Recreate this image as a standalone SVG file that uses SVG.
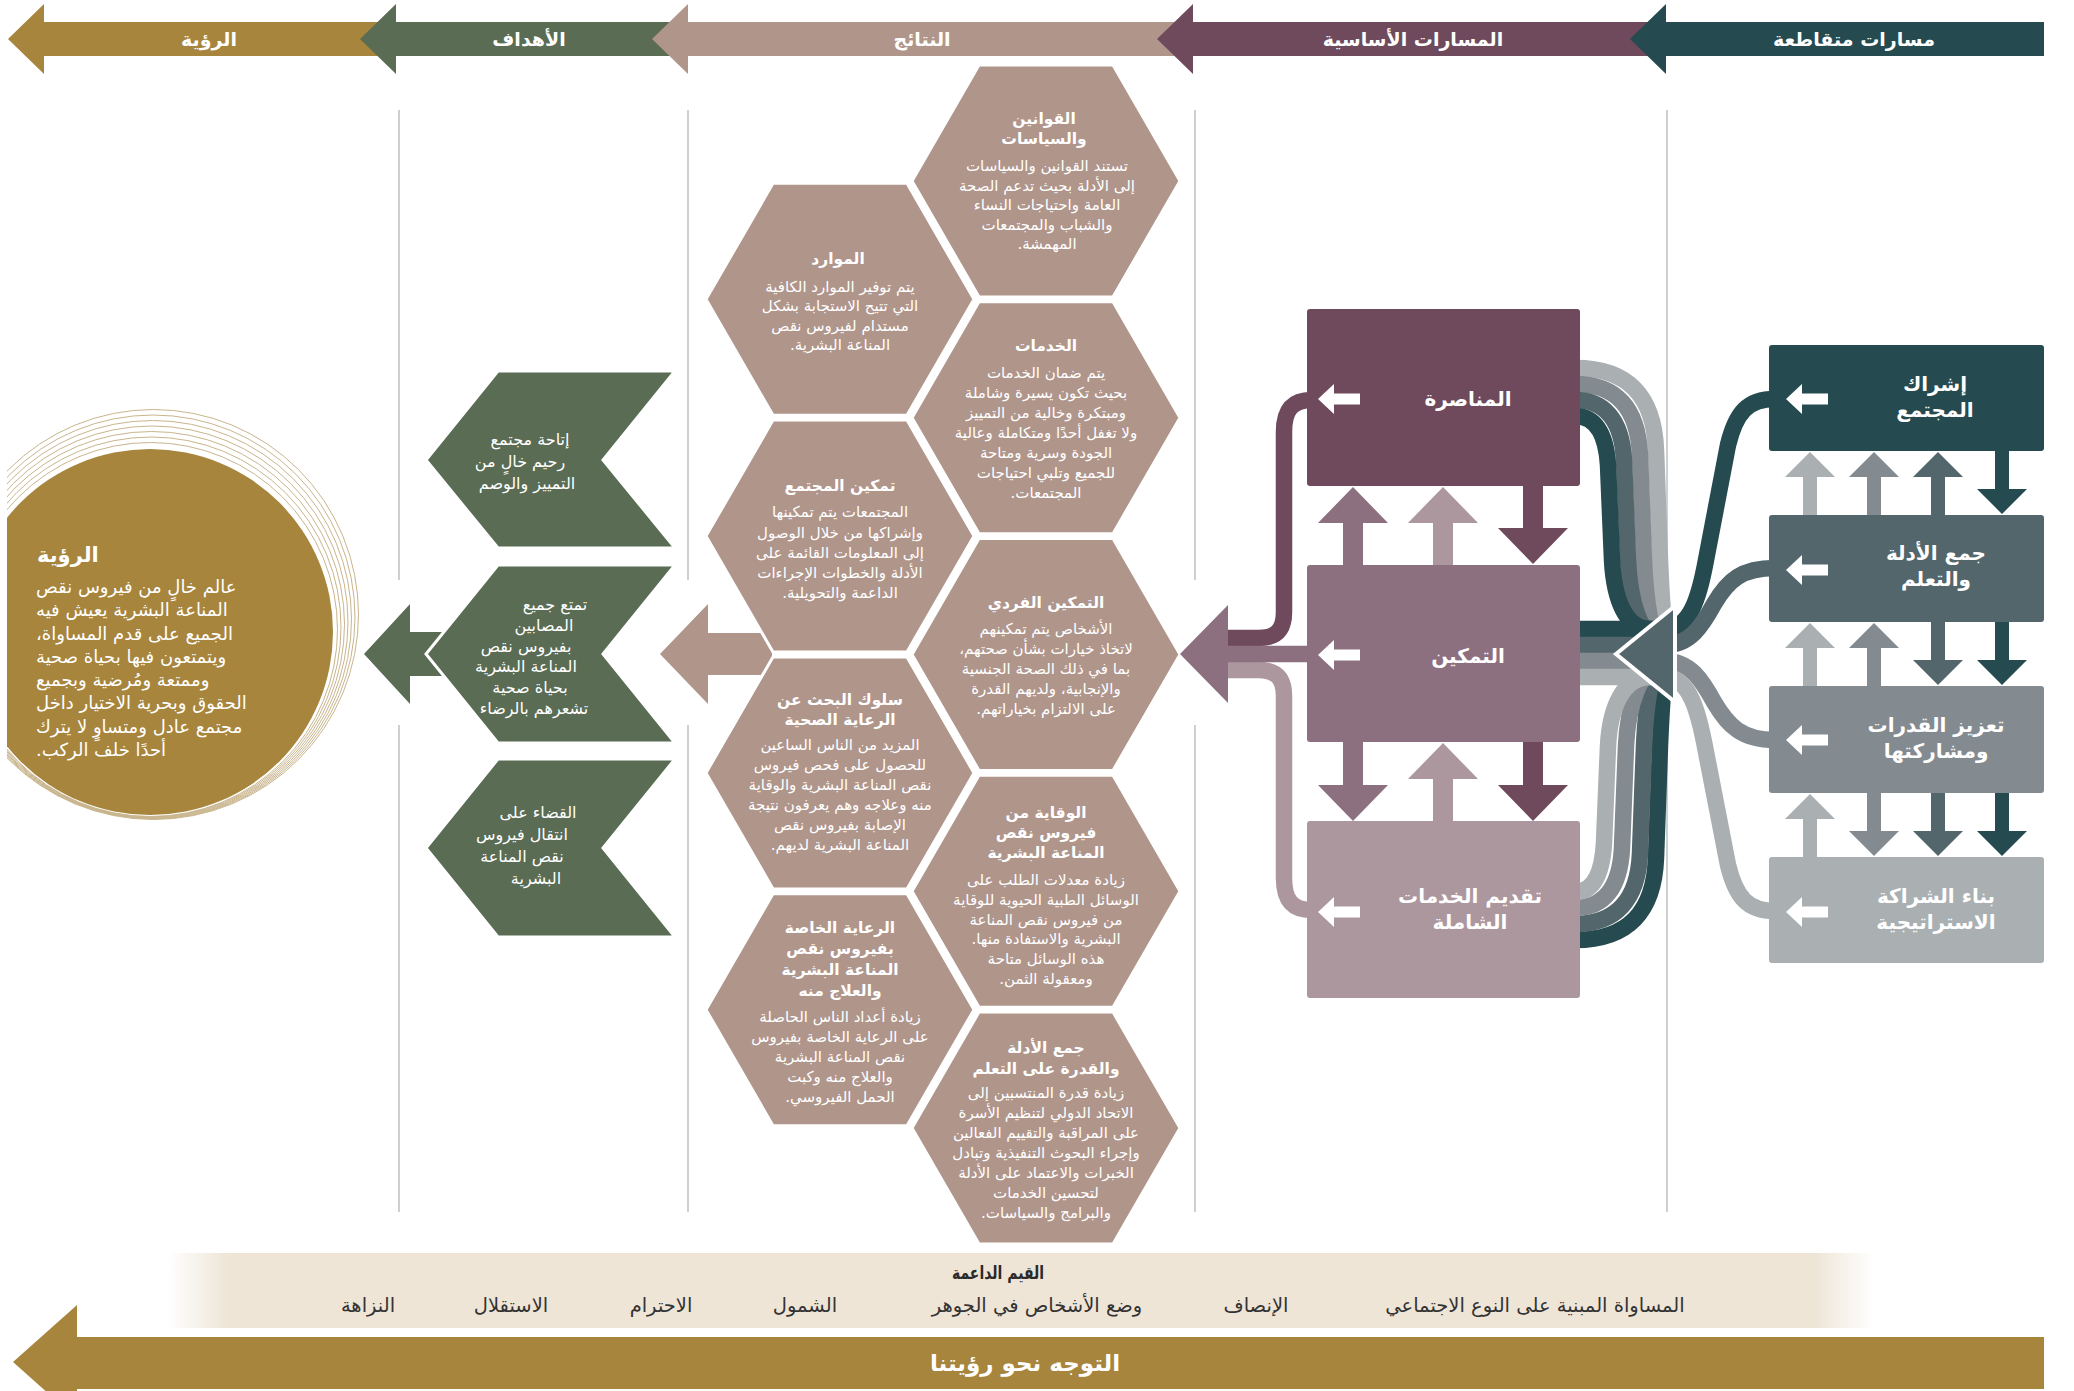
<svg xmlns="http://www.w3.org/2000/svg" width="2074" height="1391" viewBox="0 0 2074 1391">
<style>
.ar{font-family:"DejaVu Sans",sans-serif;direction:rtl}
.w{fill:#ffffff}
.b{font-weight:bold}
.hdr{font-size:19px;font-weight:bold;fill:#fff}
.hb{font-size:15px;fill:#fff}
.ht{font-size:15.5px;font-weight:bold;fill:#fff}
.gt{font-size:16px;fill:#fff}
.lbl{font-size:20px;font-weight:bold;fill:#fff}
.val{font-size:19.5px;fill:#333}
.div{stroke:#BCC0C3;stroke-width:1.5;fill:none}
.hex{fill:#B0958B;stroke:#fff;stroke-width:3}
.chev{fill:#5A6C54;stroke:#fff;stroke-width:3}
.st{fill:none;stroke-width:16.5}
</style>
<defs>
<polygon id="hexshape" points="-134,0 -67,-116 67,-116 134,0 67,116 -67,116"/>
<polygon id="wa" points="0,0 16,-15 16,-5.5 42,-5.5 42,5.5 16,5.5 16,15"/>
<polygon id="cu" points="0,0 35,36 10,36 10,81 -10,81 -10,36 -35,36"/>
<polygon id="cd" points="0,0 35,-36 10,-36 10,-81 -10,-81 -10,-36 -35,-36"/>
<polygon id="xu" points="0,0 25,25 7,25 7,66 -7,66 -7,25 -25,25"/>
<polygon id="xd" points="0,0 25,-25 7,-25 7,-66 -7,-66 -7,-25 -25,-25"/>
<clipPath id="clipL"><rect x="7" y="0" width="600" height="1391"/></clipPath>
<linearGradient id="band" x1="168" y1="0" x2="1874" y2="0" gradientUnits="userSpaceOnUse">
<stop offset="0" stop-color="#EEE5D7" stop-opacity="0"/>
<stop offset="0.035" stop-color="#EEE5D7"/>
<stop offset="0.965" stop-color="#EEE5D7"/>
<stop offset="1" stop-color="#EEE5D7" stop-opacity="0"/>
</linearGradient>
</defs>
<rect width="2074" height="1391" fill="#fff"/>

<g id="header">
<polygon points="8,39 44,4 44,22 380,22 380,56 44,56 44,74" fill="#A7853D"/>
<polygon points="360,39 396,4 396,22 672,22 672,56 396,56 396,74" fill="#5A6C54"/>
<polygon points="652,39 688,4 688,22 1175,22 1175,56 688,56 688,74" fill="#B0958B"/>
<polygon points="1157,39 1193,4 1193,22 1648,22 1648,56 1193,56 1193,74" fill="#6E4A5C"/>
<polygon points="1630,39 1666,4 1666,22 2044,22 2044,56 1666,56 1666,74" fill="#254A50"/>
<text class="ar hdr" x="209" y="46" text-anchor="middle">الرؤية</text>
<text class="ar hdr" x="529" y="46" text-anchor="middle">الأهداف</text>
<text class="ar hdr" x="922" y="46" text-anchor="middle">النتائج</text>
<text class="ar hdr" x="1413" y="46" text-anchor="middle">المسارات الأساسية</text>
<text class="ar hdr" x="1854" y="46" text-anchor="middle">مسارات متقاطعة</text>
</g>

<g id="dividers">
<line class="div" x1="399" y1="110" x2="399" y2="580"/><line class="div" x1="399" y1="725" x2="399" y2="1212"/>
<line class="div" x1="688" y1="110" x2="688" y2="580"/><line class="div" x1="688" y1="725" x2="688" y2="1212"/>
<line class="div" x1="1195" y1="110" x2="1195" y2="580"/><line class="div" x1="1195" y1="725" x2="1195" y2="1212"/>
<line class="div" x1="1667" y1="110" x2="1667" y2="595"/><line class="div" x1="1667" y1="710" x2="1667" y2="1212"/>
</g>

<g id="vision">
<g clip-path="url(#clipL)">
<g fill="none" stroke="#C9B58D" stroke-width="1">
<circle cx="150.5" cy="629.5" r="187"/>
<circle cx="151" cy="627" r="190"/>
<circle cx="151.5" cy="624.5" r="193"/>
<circle cx="152" cy="622" r="196"/>
<circle cx="152.5" cy="619.5" r="199"/>
<circle cx="153" cy="617" r="202"/>
<circle cx="153.5" cy="614.5" r="205"/>
</g>
<circle cx="150" cy="632" r="183" fill="#A7853D"/>
</g>
<text class="ar b" x="37" y="562" text-anchor="end" font-size="21" fill="#fff">الرؤية</text>
<g class="ar" font-size="18" fill="#fff" text-anchor="end">
<text x="36" y="593">عالم خالٍ من فيروس نقص</text>
<text x="36" y="616">المناعة البشرية يعيش فيه</text>
<text x="36" y="640">الجميع على قدم المساواة،</text>
<text x="36" y="663">ويتمتعون فيها بحياة صحية</text>
<text x="36" y="686">وممتعة ومُرضية وبجميع</text>
<text x="36" y="709">الحقوق وبحرية الاختيار داخل</text>
<text x="36" y="733">مجتمع عادل ومتساوٍ لا يترك</text>
<text x="36" y="756">أحدًا خلف الركب.</text>
</g>
</g>

<g id="goal-arrow">
<polygon points="364,654 410,604 410,632 445,632 445,676 410,676 410,704" fill="#5A6C54"/>
</g>

<g id="goal-1">
<polygon class="chev" points="498,371 675,371 603,460 675,548 498,548 426,460"/>
<g class="ar gt" text-anchor="middle">
<text x="530" y="445">إتاحة مجتمع</text>
<text x="520" y="467">رحيم خالٍ من</text>
<text x="527" y="489">التمييز والوصم</text>
</g>
</g>
<g id="goal-2">
<polygon class="chev" points="498,565 675,565 603,654 675,743 498,743 426,654"/>
<g class="ar gt" text-anchor="middle">
<text x="555" y="610">تمتع جميع</text>
<text x="544" y="631">المصابين</text>
<text x="526" y="652">بفيروس نقص</text>
<text x="526" y="672">المناعة البشرية</text>
<text x="530" y="693">بحياة صحية</text>
<text x="534" y="714">تشعرهم بالرضاء</text>
</g>
</g>
<g id="goal-3">
<polygon class="chev" points="498,759 675,759 603,848 675,937 498,937 426,848"/>
<g class="ar gt" text-anchor="middle">
<text x="538" y="818">القضاء على</text>
<text x="522" y="840">انتقال فيروس</text>
<text x="522" y="862">نقص المناعة</text>
<text x="536" y="884">البشرية</text>
</g>
</g>

<g id="outcome-arrow">
<polygon points="660,654 708,604 708,633 772,633 772,675 708,675 708,704" fill="#B0958B"/>
</g>

<g id="outcome-resources">
<use href="#hexshape" class="hex" x="840" y="299.3"/>
<g class="ar" text-anchor="middle">
<text class="ht" x="838" y="264">الموارد</text>
<text class="hb" x="840" y="292">يتم توفير الموارد الكافية</text>
<text class="hb" x="840" y="311">التي تتيح الاستجابة بشكل</text>
<text class="hb" x="840" y="331">مستدام لفيروس نقص</text>
<text class="hb" x="840" y="350">المناعة البشرية.</text>
</g>
</g>
<g id="outcome-community">
<use href="#hexshape" class="hex" x="840" y="536.1"/>
<g class="ar" text-anchor="middle">
<text class="ht" x="840" y="491">تمكين المجتمع</text>
<text class="hb" x="840" y="517">المجتمعات يتم تمكينها</text>
<text class="hb" x="840" y="538">وإشراكها من خلال الوصول</text>
<text class="hb" x="840" y="558">إلى المعلومات القائمة على</text>
<text class="hb" x="840" y="578">الأدلة والخطوات الإجراءات</text>
<text class="hb" x="840" y="598">الداعمة والتحويلية.</text>
</g>
</g>
<g id="outcome-seeking">
<use href="#hexshape" class="hex" x="840" y="772.9"/>
<g class="ar" text-anchor="middle">
<text class="ht" x="840" y="705">سلوك البحث عن</text>
<text class="ht" x="840" y="725">الرعاية الصحية</text>
<text class="hb" x="840" y="750">المزيد من الناس الساعين</text>
<text class="hb" x="840" y="770">للحصول على فحص فيروس</text>
<text class="hb" x="840" y="790">نقص المناعة البشرية والوقاية</text>
<text class="hb" x="840" y="810">منه وعلاجه وهم يعرفون نتيجة</text>
<text class="hb" x="840" y="830">الإصابة بفيروس نقص</text>
<text class="hb" x="840" y="850">المناعة البشرية لديهم.</text>
</g>
</g>
<g id="outcome-care">
<use href="#hexshape" class="hex" x="840" y="1009.7"/>
<g class="ar" text-anchor="middle">
<text class="ht" x="840" y="933">الرعاية الخاصة</text>
<text class="ht" x="840" y="954">بفيروس نقص</text>
<text class="ht" x="840" y="975">المناعة البشرية</text>
<text class="ht" x="840" y="996">والعلاج منه</text>
<text class="hb" x="840" y="1022">زيادة أعداد الناس الحاصلة</text>
<text class="hb" x="840" y="1042">على الرعاية الخاصة بفيروس</text>
<text class="hb" x="840" y="1062">نقص المناعة البشرية</text>
<text class="hb" x="840" y="1082">والعلاج منه وكبت</text>
<text class="hb" x="840" y="1102">الحمل الفيروسي.</text>
</g>
</g>
<g id="outcome-laws">
<use href="#hexshape" class="hex" x="1046" y="181"/>
<g class="ar" text-anchor="middle">
<text class="ht" x="1044" y="124">القوانين</text>
<text class="ht" x="1044" y="144">والسياسات</text>
<text class="hb" x="1047" y="171">تستند القوانين والسياسات</text>
<text class="hb" x="1047" y="191">إلى الأدلة بحيث تدعم الصحة</text>
<text class="hb" x="1047" y="210">العامة واحتياجات النساء</text>
<text class="hb" x="1047" y="230">والشباب والمجتمعات</text>
<text class="hb" x="1047" y="249">المهمشة.</text>
</g>
</g>
<g id="outcome-services">
<use href="#hexshape" class="hex" x="1046" y="417.7"/>
<g class="ar" text-anchor="middle">
<text class="ht" x="1046" y="351">الخدمات</text>
<text class="hb" x="1046" y="378">يتم ضمان الخدمات</text>
<text class="hb" x="1046" y="398">بحيث تكون يسيرة وشاملة</text>
<text class="hb" x="1046" y="418">ومبتكرة وخالية من التمييز</text>
<text class="hb" x="1046" y="438">ولا تغفل أحدًا ومتكاملة وعالية</text>
<text class="hb" x="1046" y="458">الجودة وسرية ومتاحة</text>
<text class="hb" x="1046" y="478">للجميع وتلبي احتياجات</text>
<text class="hb" x="1046" y="498">المجتمعات.</text>
</g>
</g>
<g id="outcome-individual">
<use href="#hexshape" class="hex" x="1046" y="654.5"/>
<g class="ar" text-anchor="middle">
<text class="ht" x="1046" y="608">التمكين الفردي</text>
<text class="hb" x="1046" y="634">الأشخاص يتم تمكينهم</text>
<text class="hb" x="1046" y="654">لاتخاذ خيارات بشأن صحتهم،</text>
<text class="hb" x="1046" y="674">بما في ذلك الصحة الجنسية</text>
<text class="hb" x="1046" y="694">والإنجابية، ولديهم القدرة</text>
<text class="hb" x="1046" y="714">على الالتزام بخياراتهم.</text>
</g>
</g>
<g id="outcome-prevention">
<use href="#hexshape" class="hex" x="1046" y="891.3"/>
<g class="ar" text-anchor="middle">
<text class="ht" x="1046" y="818">الوقاية من</text>
<text class="ht" x="1046" y="838">فيروس نقص</text>
<text class="ht" x="1046" y="858">المناعة البشرية</text>
<text class="hb" x="1046" y="885">زيادة معدلات الطلب على</text>
<text class="hb" x="1046" y="905">الوسائل الطبية الحيوية للوقاية</text>
<text class="hb" x="1046" y="925">من فيروس نقص المناعة</text>
<text class="hb" x="1046" y="944">البشرية والاستفادة منها.</text>
<text class="hb" x="1046" y="964">هذه الوسائل متاحة</text>
<text class="hb" x="1046" y="984">ومعقولة الثمن.</text>
</g>
</g>
<g id="outcome-evidence">
<use href="#hexshape" class="hex" x="1046" y="1128.1"/>
<g class="ar" text-anchor="middle">
<text class="ht" x="1046" y="1053">جمع الأدلة</text>
<text class="ht" x="1046" y="1074">والقدرة على التعلم</text>
<text class="hb" x="1046" y="1098">زيادة قدرة المنتسبين إلى</text>
<text class="hb" x="1046" y="1118">الاتحاد الدولي لتنظيم الأسرة</text>
<text class="hb" x="1046" y="1138">على المراقبة والتقييم الفعالين</text>
<text class="hb" x="1046" y="1158">وإجراء البحوث التنفيذية وتبادل</text>
<text class="hb" x="1046" y="1178">الخبرات والاعتماد على الأدلة</text>
<text class="hb" x="1046" y="1198">لتحسين الخدمات</text>
<text class="hb" x="1046" y="1218">والبرامج والسياسات.</text>
</g>
</g>

<g id="connectors">
<path class="st" stroke="#6E4A5C" d="M1312 400 C1292 400 1284 410 1284 432 L1284 612 C1284 630 1276 638 1258 638 L1222 638"/>
<path class="st" stroke="#AC979E" d="M1312 910 C1292 910 1284 900 1284 878 L1284 696 C1284 678 1276 670 1258 670 L1222 670"/>
<path class="st" stroke="#8D707F" d="M1312 654 L1222 654"/>
<polygon points="1180,654 1228,605 1228,703" fill="#8D707F"/>
<path class="st" stroke="#AAAFB1" d="M1575 368 C1628 368 1654 396 1656 450 L1660 560 C1662 610 1664 636 1668 650"/>
<path class="st" stroke="#838B91" d="M1575 384 C1616 384 1638 408 1640 455 L1644 560 C1646 606 1652 636 1662 646"/>
<path class="st" stroke="#53666B" d="M1575 400 C1604 400 1622 420 1624 460 L1628 560 C1630 602 1640 634 1658 640"/>
<path class="st" stroke="#254A50" d="M1575 416 C1594 416 1606 432 1608 465 L1612 560 C1614 600 1626 629 1650 629 L1675 629"/>
<path class="st" stroke="#254A50" d="M1575 940 C1628 940 1654 912 1656 858 L1660 746 C1662 696 1664 670 1668 656"/>
<path class="st" stroke="#53666B" d="M1575 924 C1616 924 1638 900 1640 853 L1644 746 C1646 700 1652 670 1662 660"/>
<path class="st" stroke="#838B91" d="M1575 908 C1604 908 1620 888 1622 848 L1626 746 C1628 704 1640 672 1658 666"/>
<path class="st" stroke="#AAAFB1" d="M1575 892 C1592 892 1602 876 1604 843 L1608 746 C1610 706 1624 677 1650 677 L1675 677"/>
<path class="st" stroke="#254A50" d="M1575 629 L1675 629"/>
<path class="st" stroke="#53666B" d="M1575 645 L1675 645"/>
<path class="st" stroke="#838B91" d="M1575 661 L1675 661"/>
<path class="st" stroke="#AAAFB1" d="M1575 677 L1675 677"/>
<path class="st" stroke="#254A50" d="M1775 399 C1748 399 1736 412 1728 445 L1706 560 C1699 598 1690 629 1665 629"/>
<path class="st" stroke="#53666B" d="M1775 568 C1742 568 1728 580 1714 604 C1702 626 1690 645 1665 645"/>
<path class="st" stroke="#838B91" d="M1775 740 C1742 740 1728 726 1714 702 C1702 680 1690 661 1665 661"/>
<path class="st" stroke="#AAAFB1" d="M1775 911 C1748 911 1736 898 1728 865 L1706 752 C1699 714 1690 677 1665 677"/>
<polygon points="1616,654 1675,606 1675,702" fill="#53666B" stroke="#fff" stroke-width="4" stroke-linejoin="miter"/>
<use href="#cu" x="1353" y="487" fill="#8D707F"/>
<use href="#cu" x="1443" y="487" fill="#AC979E"/>
<use href="#cd" x="1533" y="564" fill="#6E4A5C"/>
<use href="#cd" x="1353" y="821" fill="#8D707F"/>
<use href="#cu" x="1443" y="743" fill="#AC979E"/>
<use href="#cd" x="1533" y="821" fill="#6E4A5C"/>
<use href="#xu" x="1810" y="452" fill="#AAAFB1"/>
<use href="#xu" x="1874" y="452" fill="#838B91"/>
<use href="#xu" x="1938" y="452" fill="#53666B"/>
<use href="#xd" x="2002" y="514" fill="#254A50"/>
<use href="#xu" x="1810" y="623" fill="#AAAFB1"/>
<use href="#xu" x="1874" y="623" fill="#838B91"/>
<use href="#xd" x="1938" y="685" fill="#53666B"/>
<use href="#xd" x="2002" y="685" fill="#254A50"/>
<use href="#xu" x="1810" y="794" fill="#AAAFB1"/>
<use href="#xd" x="1874" y="856" fill="#838B91"/>
<use href="#xd" x="1938" y="856" fill="#53666B"/>
<use href="#xd" x="2002" y="856" fill="#254A50"/>
</g>

<g id="core-advocacy">
<rect x="1307" y="309" width="273" height="177" rx="3" fill="#6E4A5C"/>
<use href="#wa" x="1318" y="399" fill="#fff"/>
<text class="ar lbl" x="1468" y="406" text-anchor="middle">المناصرة</text>
</g>
<g id="core-empowerment">
<rect x="1307" y="565" width="273" height="177" rx="3" fill="#8D707F"/>
<use href="#wa" x="1318" y="655" fill="#fff"/>
<text class="ar lbl" x="1468" y="663" text-anchor="middle">التمكين</text>
</g>
<g id="core-services">
<rect x="1307" y="821" width="273" height="177" rx="3" fill="#AC979E"/>
<use href="#wa" x="1318" y="912" fill="#fff"/>
<text class="ar lbl" x="1470" y="903" text-anchor="middle">تقديم الخدمات</text>
<text class="ar lbl" x="1470" y="929" text-anchor="middle">الشاملة</text>
</g>

<g id="cross-community">
<rect x="1769" y="345" width="275" height="106" rx="3" fill="#254A50"/>
<use href="#wa" x="1786" y="399" fill="#fff"/>
<text class="ar lbl" x="1935" y="391" text-anchor="middle">إشراك</text>
<text class="ar lbl" x="1935" y="417" text-anchor="middle">المجتمع</text>
</g>
<g id="cross-evidence">
<rect x="1769" y="515" width="275" height="107" rx="3" fill="#53666B"/>
<use href="#wa" x="1786" y="570" fill="#fff"/>
<text class="ar lbl" x="1936" y="560" text-anchor="middle">جمع الأدلة</text>
<text class="ar lbl" x="1936" y="586" text-anchor="middle">والتعلم</text>
</g>
<g id="cross-capacity">
<rect x="1769" y="686" width="275" height="107" rx="3" fill="#838B91"/>
<use href="#wa" x="1786" y="740" fill="#fff"/>
<text class="ar lbl" x="1936" y="732" text-anchor="middle">تعزيز القدرات</text>
<text class="ar lbl" x="1936" y="758" text-anchor="middle">ومشاركتها</text>
</g>
<g id="cross-partnership">
<rect x="1769" y="857" width="275" height="106" rx="3" fill="#AAAFB1"/>
<use href="#wa" x="1786" y="912" fill="#fff"/>
<text class="ar lbl" x="1936" y="903" text-anchor="middle">بناء الشراكة</text>
<text class="ar lbl" x="1936" y="929" text-anchor="middle">الاستراتيجية</text>
</g>

<g id="values">
<rect x="168" y="1253" width="1706" height="75" fill="url(#band)"/>
<text class="ar b" x="998" y="1279" text-anchor="middle" font-size="18" fill="#2a2a2a" textLength="92" lengthAdjust="spacingAndGlyphs">القيم الداعمة</text>
<g class="ar val" text-anchor="middle">
<text x="1535" y="1312">المساواة المبنية على النوع الاجتماعي</text>
<text x="1256" y="1312">الإنصاف</text>
<text x="1037" y="1312">وضع الأشخاص في الجوهر</text>
<text x="805" y="1312">الشمول</text>
<text x="661" y="1312">الاحترام</text>
<text x="511" y="1312">الاستقلال</text>
<text x="368" y="1312">النزاهة</text>
</g>
</g>

<g id="direction">
<polygon points="13,1362 77,1305 77,1337 2044,1337 2044,1389 77,1389 77,1419" fill="#A7853D"/>
<text class="ar b" x="1025" y="1371" text-anchor="middle" font-size="23" fill="#fff">التوجه نحو رؤيتنا</text>
</g>
</svg>
